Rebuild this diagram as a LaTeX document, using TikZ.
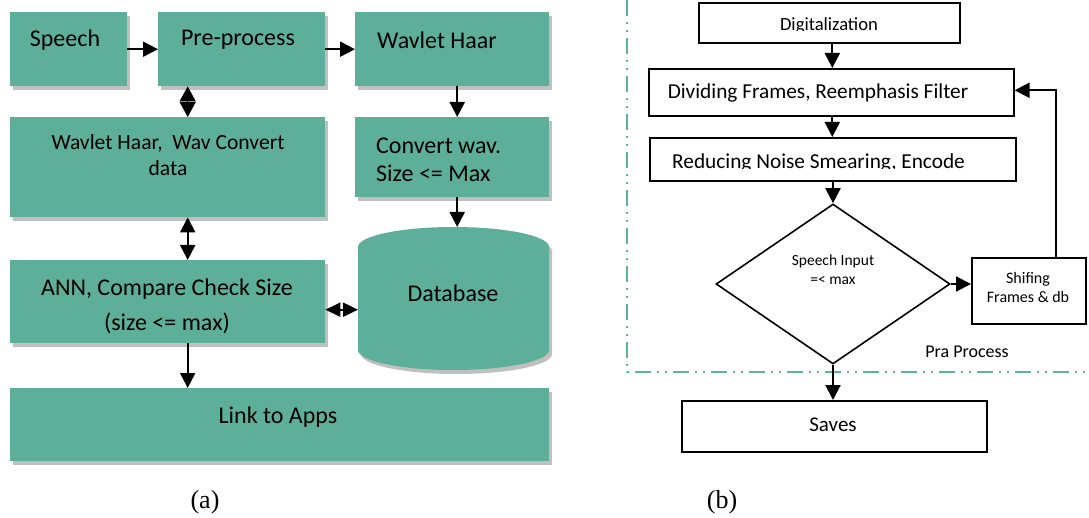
\documentclass[tikz,border=0pt]{standalone}
\usepackage{fontspec}
\setmainfont{Carlito}
\newfontfamily\serifrm{Liberation Serif}
\usetikzlibrary{arrows.meta,shadows,shapes.geometric}
\definecolor{tealfill}{HTML}{5EAF9A}
\definecolor{shadgray}{HTML}{C0C0C0}
\definecolor{framecol}{HTML}{5BB59D}
\begin{document}
\begin{tikzpicture}[x=1pt,y=-1pt,
  gbox/.style={fill=tealfill, draw=none, inner sep=0pt, anchor=north west,
    general shadow={fill=shadgray, shadow xshift=3pt, shadow yshift=-4pt}},
  wbox/.style={draw=black, line width=1.6pt, fill=white, inner sep=0pt, anchor=north west},
  fa/.style={font=\fontsize{24}{28}\selectfont, inner sep=0pt, text=black},
  fas/.style={font=\fontsize{21.6}{26}\selectfont, inner sep=0pt, text=black},
  fb/.style={font=\fontsize{21.3}{24}\selectfont, inner sep=0pt, text=black},
  arr/.style={line width=2pt, -{Triangle[length=15pt,width=15pt]}},
  darr/.style={line width=2pt, {Triangle[length=15pt,width=15pt]}-{Triangle[length=15pt,width=15pt]}},
  dhead/.style={line width=1pt, {Triangle[length=15pt,width=16pt]}-{Triangle[length=15pt,width=16pt]}},
  hhead/.style={line width=2pt, {Triangle[length=15pt,width=14pt]}-{Triangle[length=15pt,width=14pt]}},
]
\useasboundingbox[fill=white] (0,0) rectangle (1089,518);

% ---------------- panel (a) ----------------
\node[gbox, minimum width=117pt, minimum height=74pt] (speech) at (10,12) {};
\node[gbox, minimum width=167pt, minimum height=74pt] (pre) at (158,12) {};
\node[gbox, minimum width=194pt, minimum height=74pt] (haar) at (355,12) {};
\node[gbox, minimum width=315pt, minimum height=100pt] (wc) at (10,117) {};
\node[gbox, minimum width=194pt, minimum height=80pt] (cw) at (355,117) {};
\node[gbox, minimum width=315pt, minimum height=83pt] (ann) at (10,260) {};
\node[gbox, minimum width=539pt, minimum height=73pt] (link) at (10,388) {};
% database cylinder
\fill[shadgray] (361,251) arc[start angle=180, end angle=360, x radius=95.5, y radius=20]
  -- (552,354) arc[start angle=0, end angle=180, x radius=95.5, y radius=20] -- cycle;
\fill[tealfill] (358,247) arc[start angle=180, end angle=360, x radius=95.5, y radius=20]
  -- (549,350) arc[start angle=0, end angle=180, x radius=95.5, y radius=20] -- cycle;
\node[draw=none, inner sep=0pt, anchor=north west, minimum width=191pt, minimum height=143pt] (db) at (358,227) {};

\node[fa] (tspeech) at (65,40) {Speech};
\node[fa] (tpre) at (238,40) {Pre-process};
\node[fa] (thaar) at (437,40) {Wavlet Haar};
\node[fas, align=center] (twc) at (168,155) {Wavlet Haar,\ \ Wav Convert\\data};
\node[fa, align=left, anchor=west] (tcw) at (376,160) {Convert wav.\\Size <= Max};
\node[fa, align=center, font=\fontsize{24}{35}\selectfont] (tann) at (167,306) {ANN, Compare Check Size\\(size <= max)};
\node[fa] (tdb) at (453,293) {Database};
\node[fa] (tlink) at (278,417) {Link to Apps};

\draw[arr] (speech) -- (pre);
\draw[arr] (pre) -- (haar);
\draw[dhead] ([xshift=20pt]wc.north) -- ([xshift=20pt]wc.north |- pre.south);
\draw[arr] ([xshift=5pt]haar.south) -- ([xshift=5pt]cw.north);
\draw[arr] ([xshift=5pt]cw.south) -- ([xshift=5pt]cw.south |- db.north);
\draw[darr] ([xshift=20pt]wc.south) -- ([xshift=20pt]ann.north);
\draw[hhead] ([yshift=-8pt]ann.east) -- ([yshift=-8pt]ann.east -| db.west);
\draw[arr] ([xshift=20pt]ann.south) -- ([xshift=20pt]ann.south |- link.north);

\node[font=\serifrm\fontsize{26}{30}\selectfont, inner sep=0pt] (la) at (205,502) {(a)};

% ---------------- panel (b) ----------------
\draw[framecol, line width=2pt, dash pattern=on 16pt off 6pt on 2pt off 6pt on 2pt off 6pt]
  (627,0) -- (627,372) -- (1089,372);

\node[wbox, minimum width=261pt, minimum height=40pt] (dig) at (698,2) {};
\begin{scope}
  \clip (700,4) rectangle (957,31);
  \node[font=\fontsize{18.6}{22}\selectfont, inner sep=0pt, anchor=base] (tdig) at (829,30.5) {Digitalization};
\end{scope}
\node[wbox, minimum width=365pt, minimum height=47pt] (div) at (648,68) {};
\node[fb] (tdiv) at (818,93) {Dividing Frames, Reemphasis Filter};
\node[wbox, minimum width=366pt, minimum height=43pt] (red) at (649,137) {};
\begin{scope}
  \clip (651,139) rectangle (1013,169);
  \node[fb, anchor=base west] (tred) at (672,168.5) {Reducing Noise Smearing, Encode};
\end{scope}
\node[draw=black, line width=1.6pt, fill=white, diamond, aspect=1.4625, minimum width=234pt, minimum height=160pt, inner sep=0pt] (dia) at (833,284) {};
\node[font=\fontsize{15.5}{19}\selectfont, align=center, inner sep=0pt] (tdia) at (833,270) {Speech Input\\=< max};
\node[wbox, minimum width=114pt, minimum height=66pt] (sh) at (971,257) {};
\node[font=\fontsize{16}{19}\selectfont, align=center, inner sep=0pt] (tsh) at (1028,288) {Shifing\\Frames \& db};
\node[wbox, minimum width=305pt, minimum height=51pt] (sav) at (681,400) {};
\node[font=\fontsize{21}{24}\selectfont, inner sep=0pt] (tsav) at (833,425) {Saves};
\node[font=\fontsize{18}{22}\selectfont, inner sep=0pt] (tpra) at (967,352) {Pra Process};

\draw[arr] ([xshift=3pt]dig.south) -- ([xshift=3pt]dig.south |- div.north);
\draw[arr] ([xshift=1pt]div.south) -- ([xshift=1pt]div.south |- red.north);
\draw[arr] (red.south -| dia.north) -- (dia.north);
\draw[arr] (dia.east) -- (dia.east -| sh.west);
\draw[arr] ([xshift=27pt]sh.north) |- ([yshift=2pt]div.east);
\draw[arr] (dia.south) -- (dia.south |- sav.north);

\node[font=\serifrm\fontsize{26}{30}\selectfont, inner sep=0pt] (lb) at (722,502) {(b)};
\end{tikzpicture}
\end{document}
